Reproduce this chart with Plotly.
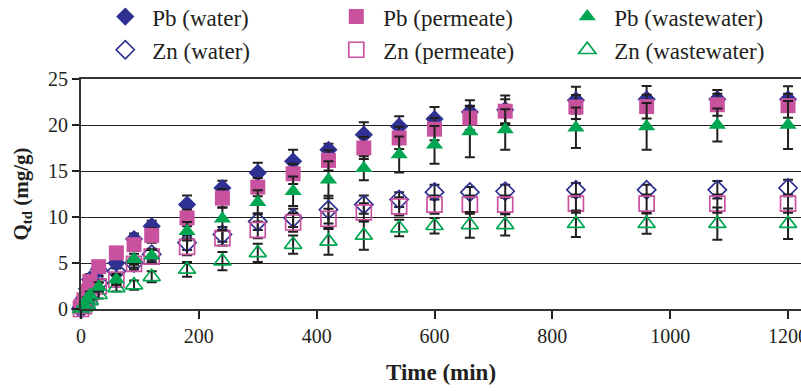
import plotly.graph_objects as go

time = [0, 5, 10, 15, 30, 60, 90, 120, 180, 240, 300, 360, 420, 480, 540, 600, 660, 720, 840, 960, 1080, 1200]

pb_water = [0.2, 1.2, 2.2, 3.2, 4.3, 5.0, 7.6, 9.0, 11.35, 13.15, 14.8, 16.05, 17.3, 18.95, 19.85, 20.65, 21.4, 21.65, 22.7, 22.8, 22.8, 22.8]
pb_water_err = [0.3, 0.4, 0.5, 0.6, 0.7, 0.6, 0.6, 0.6, 1.0, 0.8, 1.1, 1.25, 0.65, 1.35, 1.1, 1.3, 1.3, 1.55, 1.45, 1.45, 1.0, 1.4]
pb_perm = [0.3, 1.0, 1.9, 3.0, 4.6, 6.1, 7.0, 8.0, 9.9, 12.05, 13.25, 14.7, 16.15, 17.5, 18.6, 19.55, 20.75, 21.5, 21.95, 22.0, 22.2, 22.1]
pb_perm_err = [0.2, 0.3, 0.4, 0.5, 0.6, 0.6, 0.7, 0.8, 0.9, 1.0, 1.0, 1.1, 1.1, 1.2, 1.2, 1.2, 1.3, 1.3, 1.3, 1.3, 1.2, 1.3]
pb_ww = [0.0, 0.5, 1.0, 1.5, 2.4, 3.2, 5.4, 5.8, 8.45, 9.8, 11.6, 12.8, 14.05, 15.3, 16.8, 17.85, 19.3, 19.5, 19.7, 19.85, 20.0, 20.0]
pb_ww_err = [0.2, 0.3, 0.3, 0.4, 0.5, 0.6, 0.6, 0.7, 1.0, 1.2, 1.3, 1.6, 2.0, 1.3, 1.95, 2.05, 2.8, 2.2, 2.2, 2.55, 1.8, 2.6]
zn_water = [0.0, 0.4, 0.9, 1.5, 2.8, 4.1, 5.0, 5.95, 7.2, 8.1, 9.5, 9.9, 10.8, 11.35, 11.9, 12.7, 12.7, 12.8, 12.95, 12.95, 12.95, 13.15]
zn_water_err = [0.2, 0.2, 0.3, 0.3, 0.4, 0.5, 0.5, 0.6, 0.8, 0.8, 0.9, 1.0, 1.5, 1.0, 0.8, 0.8, 0.55, 0.7, 0.75, 0.55, 0.95, 0.9]
zn_perm = [0.0, 0.3, 0.8, 1.3, 2.45, 3.2, 4.9, 5.7, 6.75, 7.7, 8.6, 9.4, 9.8, 10.5, 11.15, 11.35, 11.35, 11.35, 11.45, 11.45, 11.45, 11.45]
zn_perm_err = [0.2, 0.2, 0.3, 0.3, 0.4, 0.5, 0.6, 0.7, 0.9, 0.8, 0.9, 1.0, 1.1, 1.0, 1.0, 1.0, 1.0, 1.0, 1.0, 1.0, 1.0, 1.0]
zn_ww = [0.0, 0.2, 0.5, 0.9, 1.55, 2.3, 2.6, 3.5, 4.3, 5.2, 6.1, 7.0, 7.35, 8.0, 8.8, 9.05, 9.15, 9.15, 9.27, 9.27, 9.27, 9.27]
zn_ww_err = [0.1, 0.2, 0.2, 0.3, 0.4, 0.4, 0.5, 0.6, 0.8, 1.0, 1.0, 1.0, 1.45, 1.55, 0.9, 0.85, 1.4, 1.15, 1.45, 1.1, 1.75, 1.65]

x_ticks = [0, 200, 400, 600, 800, 1000, 1200]
y_ticks = [0, 5, 10, 15, 20, 25]

BLUE = "#2E3192"
PINK = "#C8529E"
GREEN = "#00A651"
INK = "#231F20"
FONT = "Liberation Serif, Times New Roman, serif"

fig = go.Figure()

def add(name, y, err, symbol, color, filled, legend, size):
    if filled:
        marker = dict(symbol=symbol, size=size, color=color, line=dict(width=0))
    else:
        marker = dict(symbol=symbol + "-open", size=size, color=color, line=dict(color=color, width=1.7))
    fig.add_trace(go.Scatter(
        x=time, y=y, name=name, mode="markers", marker=marker,
        error_y=dict(type="data", array=err, visible=True, color=INK, thickness=2, width=5),
        cliponaxis=False, legend=legend))

add("Zn (water)", zn_water, zn_water_err, "diamond", BLUE, False, "legend2", 14)
add("Zn (permeate)", zn_perm, zn_perm_err, "square", PINK, False, "legend2", 15)
add("Zn (wastewater)", zn_ww, zn_ww_err, "triangle-up", GREEN, False, "legend2", 15)
add("Pb (water)", pb_water, pb_water_err, "diamond", BLUE, True, "legend", 14)
add("Pb (permeate)", pb_perm, pb_perm_err, "square", PINK, True, "legend", 15)
add("Pb (wastewater)", pb_ww, pb_ww_err, "triangle-up", GREEN, True, "legend", 15)

leg_common = dict(orientation="h", xanchor="left", yanchor="middle",
                  font=dict(family=FONT, size=23, color=INK),
                  entrywidth=172, entrywidthmode="pixels", itemwidth=44,
                  bgcolor="rgba(0,0,0,0)", traceorder="normal")

fig.update_layout(
    width=801, height=391,
    margin=dict(l=81, r=0, t=79, b=82, autoexpand=False),
    plot_bgcolor="white", paper_bgcolor="white",
    font=dict(family=FONT, size=20, color=INK),
    showlegend=True,
    legend=dict(x=0.024, y=1.271, **leg_common),
    legend2=dict(x=0.024, y=1.127, **leg_common),
    xaxis=dict(range=[0, 1222], tickvals=x_ticks, ticktext=[str(v) for v in x_ticks],
               automargin=False,
               showgrid=False, zeroline=False, showline=True, linecolor="#333333", linewidth=2,
               mirror=True, ticks="outside", ticklen=8, tickwidth=2, tickcolor=INK,
               ticklabeloverflow="allow",
               tickfont=dict(family=FONT, size=20, color=INK),
               title=dict(text="<b>Time (min)</b>", font=dict(family=FONT, size=23, color=INK), standoff=18)),
    yaxis=dict(range=[0, 25], tickvals=y_ticks, ticktext=[str(v) for v in y_ticks],
               automargin=False,
               showgrid=True, gridcolor=INK, gridwidth=1.3, zeroline=False,
               showline=True, linecolor="#333333", linewidth=2,
               ticks="outside", ticklen=7, tickwidth=2, tickcolor=INK,
               tickfont=dict(family=FONT, size=20, color=INK),
               title=dict(text="<b>Q<sub>td</sub> (mg/g)</b>", font=dict(family=FONT, size=21, color=INK), standoff=14)),
)

fig.write_html("out.html")
